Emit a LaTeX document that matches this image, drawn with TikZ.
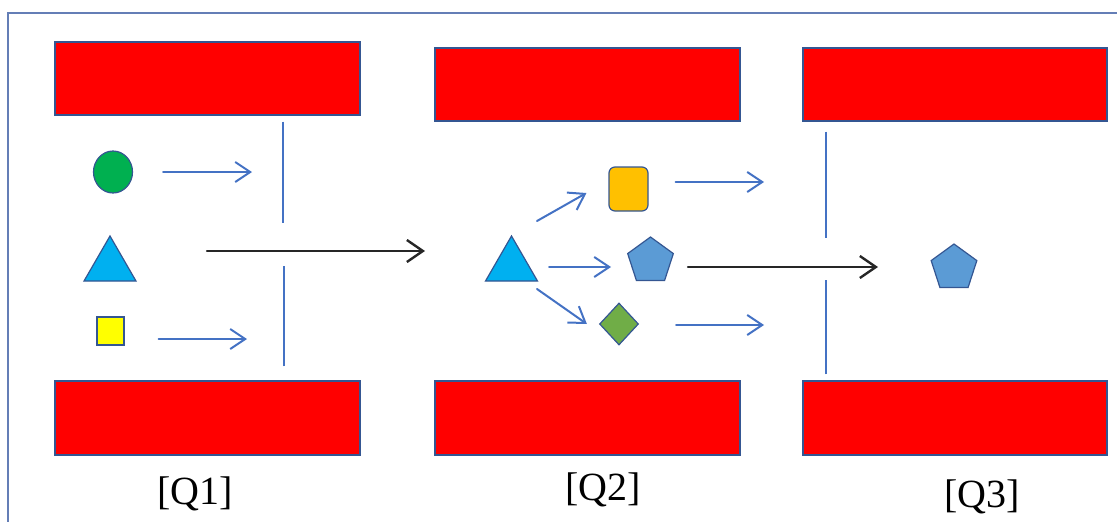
\documentclass[tikz,border=0pt]{standalone}
\usepackage{fontspec}
\setmainfont{Liberation Serif}
\usetikzlibrary{arrows.meta,shapes.geometric}

\definecolor{framec}{RGB}{100,126,182}
\definecolor{edgec}{RGB}{52,86,146}
\definecolor{barred}{RGB}{255,0,0}
\definecolor{flowblue}{RGB}{68,114,196}
\definecolor{dark}{RGB}{38,38,38}
\definecolor{cgreen}{RGB}{0,176,80}
\definecolor{ccyan}{RGB}{0,176,240}
\definecolor{cyellow}{RGB}{255,255,0}
\definecolor{corange}{RGB}{255,192,0}
\definecolor{cpent}{RGB}{91,155,213}
\definecolor{cdiam}{RGB}{112,173,71}

\tikzset{
  bar/.style={draw=edgec, line width=1.2pt, fill=barred, rectangle,
    minimum width=305pt, minimum height=73pt, inner sep=0pt},
  token/.style={draw=edgec, line width=1.2pt, inner sep=0pt},
  tri/.style={token, fill=ccyan, regular polygon, regular polygon sides=3, minimum size=60pt},
  pent/.style={token, fill=cpent, regular polygon, regular polygon sides=5, minimum size=48pt},
  wall/.style={draw=flowblue, line width=2pt},
  flow/.style={draw=flowblue, line width=2pt, line cap=round,
    -{Straight Barb[length=15pt,width=20pt,line width=2pt]}},
  mainflow/.style={draw=dark, line width=2.4pt, line cap=round,
    -{Straight Barb[length=16pt,width=22pt,line width=2.4pt]}},
  qlabel/.style={inner sep=0pt, font=\fontsize{40}{48}\selectfont}
}

\begin{document}
\begin{tikzpicture}[x=1pt, y=-1pt]
\useasboundingbox (0,0) rectangle (1117,522);

% outer frame (runs off to the right and bottom)
\draw[framec, line width=2pt] (7.5,530) -- (7.5,13) -- (1125,13);

% barrier bars
\node[bar] (r1t) at (207.5,78.5) {};
\node[bar, minimum height=74pt] (r1b) at (207.5,418) {};
\node[bar] (r2t) at (587.5,84.5) {};
\node[bar, minimum height=74pt] (r2b) at (587.5,418) {};
\node[bar, minimum width=304pt] (r3t) at (955,84.5) {};
\node[bar, minimum width=304pt, minimum height=74pt] (r3b) at (955,418) {};

% gates
\draw[wall] ([shift={(-78,6)}]r1t.south east) -- ++(0,101);
\draw[wall] ([shift={(-77,-14)}]r1b.north east) -- ++(0,-100);
\draw[wall] ([shift={(24,10)}]r3t.south west) -- ++(0,106);
\draw[wall] ([shift={(24,-6)}]r3b.north west) -- ++(0,-94);

% stage Q1 tokens
\node[token, ellipse, fill=cgreen, minimum width=39pt, minimum height=42pt] (circ) at (113,172) {};
\node[tri] (tri1) at (110,266) {};
\node[token, rectangle, fill=cyellow, minimum width=27pt, minimum height=28pt] (sq) at (110.5,331) {};

\coordinate (e1) at (252,172);
\coordinate (e2) at (247,339);
\draw[flow] ([xshift=30pt]circ.east) -- (e1);
\draw[flow] ([shift={(34,8)}]sq.east) -- (e2);

\coordinate (m1s) at (207,251);
\coordinate (m1e) at (425,251);
\draw[mainflow] (m1s) -- (m1e);

% stage Q2 tokens
\node[tri] (tri2) at (511.5,266) {};
\node[token, rectangle, rounded corners=6pt, fill=corange, minimum width=39pt, minimum height=44pt] (org) at (628.5,189) {};
\node[pent] (pent2) at (650.5,261) {};
\node[token, diamond, fill=cdiam, minimum width=39pt, minimum height=42pt] (dia) at (619,324) {};

\draw[flow] ([shift={(25.5,-45)}]tri2.center) -- ([shift={(-22,4)}]org.west);
\draw[flow] ([shift={(37.5,1)}]tri2.center) -- ([shift={(-39.5,6)}]pent2.center);
\draw[flow] ([shift={(25.5,23)}]tri2.center) -- ([shift={(-12,0)}]dia.west);

\coordinate (o3) at (764,182);
\coordinate (d3) at (764,325);
\draw[flow] ([shift={(27,-7)}]org.east) -- (o3);
\draw[flow] ([shift={(37,1)}]dia.east) -- (d3);

% stage Q3 token
\node[pent] (pent3) at (954,268) {};
\draw[mainflow] ([shift={(37.5,6)}]pent2.center) -- ([shift={(-76,-1)}]pent3.center);

% stage labels
\node[qlabel] (q1) at (195,494) {[Q1]};
\node[qlabel] (q2) at (603,490) {[Q2]};
\node[qlabel] (q3) at (982,497) {[Q3]};
\end{tikzpicture}
\end{document}
